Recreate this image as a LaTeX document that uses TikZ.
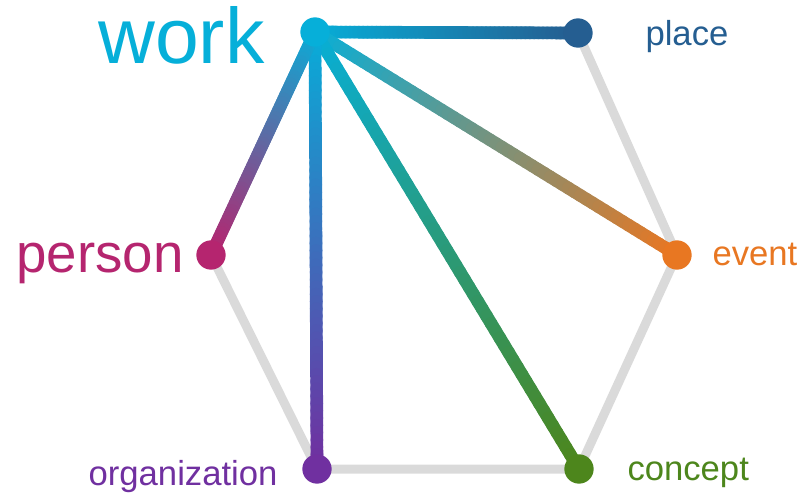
\documentclass[tikz,border=0pt]{standalone}
\usepackage{fontspec}
\setmainfont{Liberation Sans}
\usetikzlibrary{calc}
\tikzset{every picture/.style={line width=0.75pt}}

\definecolor{cwork}{RGB}{6,175,217}
\definecolor{cplace}{RGB}{37,94,145}
\definecolor{cevent}{RGB}{232,119,34}
\definecolor{cconcept}{RGB}{77,134,28}
\definecolor{corganization}{RGB}{112,48,160}
\definecolor{cperson}{RGB}{181,37,111}
\definecolor{cedge}{RGB}{218,218,218}

\tikzset{
  rim/.style={draw=cedge, line width=6.75pt, line join=round},
  link/.style={line width=9.5pt, line cap=round},
  dot/.style={circle, inner sep=0pt, minimum size=22pt},
  label/.style={inner sep=0pt}
}

\begin{document}
\begin{tikzpicture}[x=0.75pt,y=0.75pt,yscale=-1,xscale=1]
\useasboundingbox (0,0) rectangle (810,493);

% Vertices
\coordinate (work) at (315,32);
\coordinate (place) at (578,33);
\coordinate (event) at (677,255);
\coordinate (concept) at (579,469);
\coordinate (organization) at (317,469);
\coordinate (person) at (211,255);

%Hexagon rim
\draw [rim] (work) -- (place) -- (event) -- (concept) -- (organization) -- (person) -- cycle;

%Gradient links from work
\foreach \target in {place,event,concept,organization,person}{
  \foreach \i in {1,...,60}{
    \pgfmathsetmacro\s{(\i-1)/60}
    \pgfmathsetmacro\e{\i/60}
    \pgfmathsetmacro\p{100-(\i-0.5)*100/60}
    \colorlet{segcol}{cwork!\p!c\target}
    \draw [link, color=segcol] ($(work)!\s!(\target)$) -- ($(work)!\e!(\target)$);
  }
}

%Dots
\node [dot, fill=cwork] (work dot) at (work) {};
\node [dot, fill=cplace] (place dot) at (place) {};
\node [dot, fill=cevent] (event dot) at (event) {};
\node [dot, fill=cconcept] (concept dot) at (concept) {};
\node [dot, fill=corganization] (organization dot) at (organization) {};
\node [dot, fill=cperson] (person dot) at (person) {};

% Text Node
\node [label, anchor=base east, text=cwork, font=\fontsize{59}{60}\selectfont] (work label) at (265,63) {work};
% Text Node
\node [label, anchor=base west, text=cplace, font=\fontsize{26}{28}\selectfont] (place label) at (645,45) {place};
% Text Node
\node [label, anchor=base west, text=cevent, font=\fontsize{26}{28}\selectfont] (event label) at (712,265) {event};
% Text Node
\node [label, anchor=base west, text=cconcept, font=\fontsize{26}{28}\selectfont] (concept label) at (627,480) {concept};
% Text Node
\node [label, anchor=base east, text=corganization, font=\fontsize{26}{28}\selectfont] (organization label) at (278,485) {organization};
% Text Node
\node [label, anchor=base east, text=cperson, font=\fontsize{41}{44}\selectfont] (person label) at (184,272) {person};

\end{tikzpicture}
\end{document}
